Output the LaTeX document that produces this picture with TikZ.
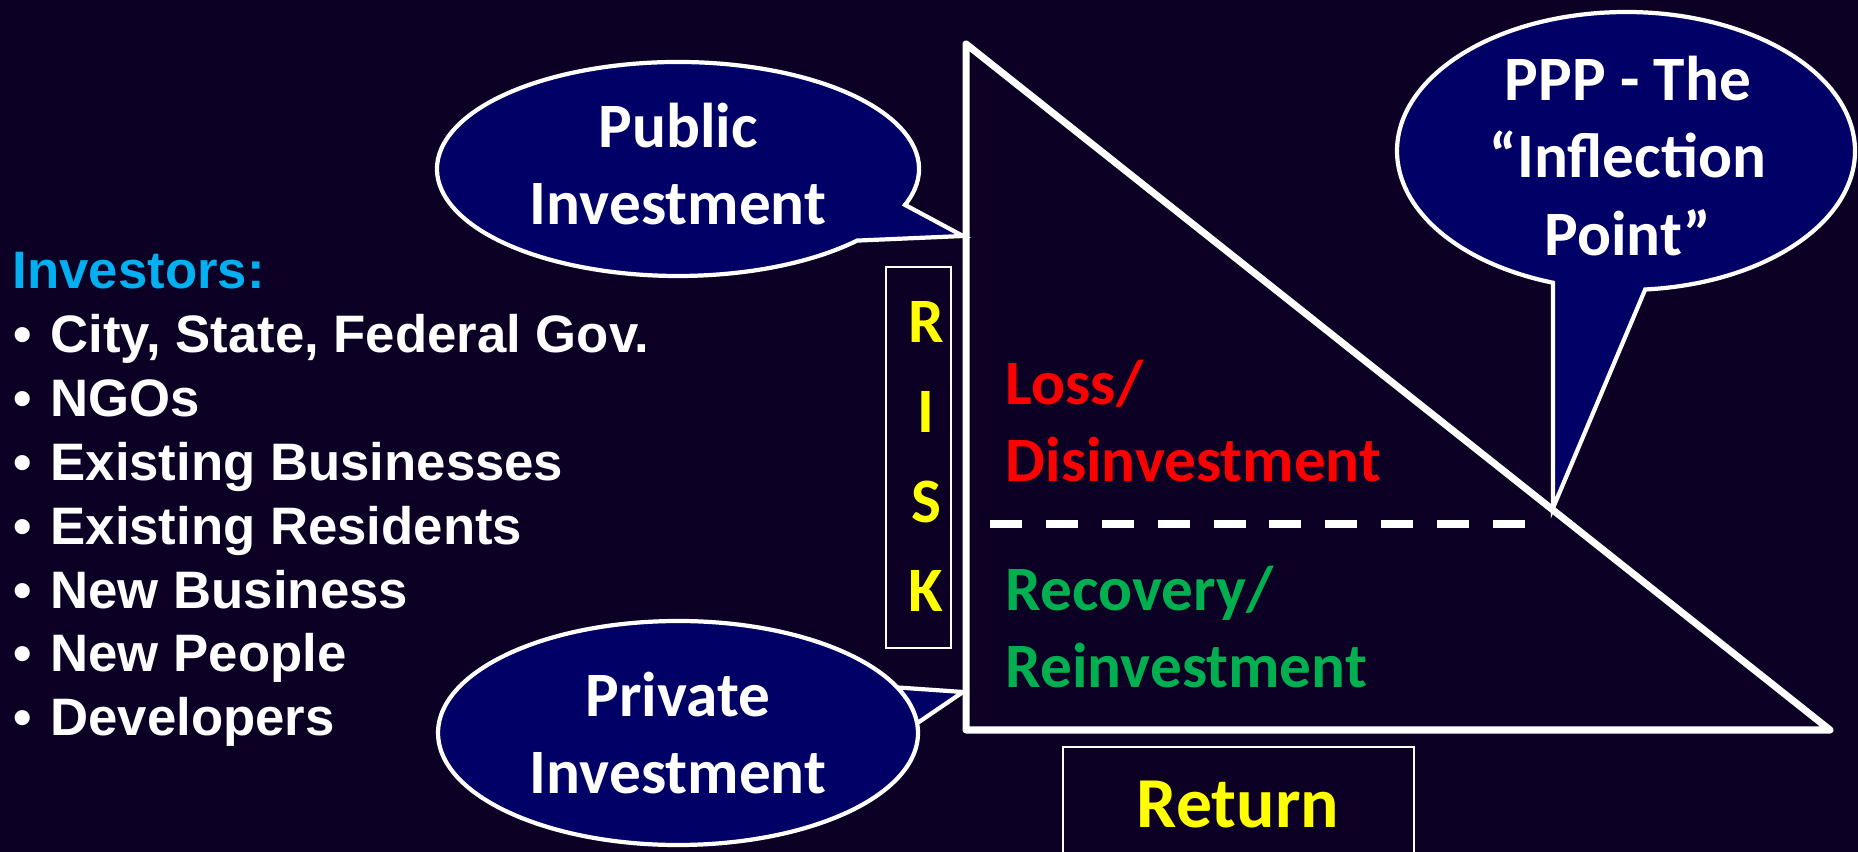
\documentclass[tikz,border=0pt]{standalone}
\usepackage{fontspec}
\usepackage{tikz}
\usetikzlibrary{positioning}

\newfontfamily\calibri{Carlito}
\newfontfamily\arialfont{Liberation Sans}

\definecolor{slidebg}{RGB}{12,0,36}
\definecolor{bubblenavy}{RGB}{0,0,102}
\definecolor{headcyan}{RGB}{0,176,240}
\definecolor{riskyellow}{RGB}{255,255,0}
\definecolor{lossred}{RGB}{255,0,0}
\definecolor{gaingreen}{RGB}{0,176,80}

\newcommand{\bul}{\makebox[10.5pt][l]{\textbullet}}

\begin{document}
\begin{tikzpicture}[x=0.1mm, y=0.1mm,
  bubble/.style = {draw=white, fill=bubblenavy, line width=1.2pt},
  bubbletext/.style = {text=white, font=\calibri\bfseries\fontsize{18}{22}\selectfont, align=center, inner sep=0pt},
  item/.style = {text=white, font=\arialfont\bfseries\fontsize{15}{18}\selectfont, anchor=base west, inner sep=0pt},
  riskletter/.style = {text=riskyellow, font=\calibri\bfseries\fontsize{18}{22}\selectfont, anchor=base, inner sep=0pt},
  zonetext/.style = {font=\calibri\bfseries\fontsize{18}{22}\selectfont, align=left, anchor=base west, inner sep=0pt},
  frame/.style = {draw=white, line width=0.7pt}]

\useasboundingbox (0,0) rectangle (1858,-852);
\fill[slidebg] (0,0) rectangle (1858,-852);

% investor list
\node[item, text=headcyan] (head) at (12,-289) {Investors:};
\node[item] (gov) at (13,-353) {\bul City, State, Federal Gov.};
\node[item] (ngo) [below=18.15pt of gov.base west, anchor=base west] {\bul NGOs};
\node[item] (oldbiz) [below=18.15pt of ngo.base west, anchor=base west] {\bul Existing Businesses};
\node[item] (oldres) [below=18.15pt of oldbiz.base west, anchor=base west] {\bul Existing Residents};
\node[item] (newbiz) [below=18.15pt of oldres.base west, anchor=base west] {\bul New Business};
\node[item] (people) [below=18.15pt of newbiz.base west, anchor=base west] {\bul New People};
\node[item] (devs) [below=18.15pt of people.base west, anchor=base west] {\bul Developers};

% risk / return triangle
\coordinate (apex) at (966,-44);
\coordinate (corner) at (966,-730);
\coordinate (far) at (1830,-730);
\draw[white, line width=2pt, line join=round] (apex) -- (corner) -- (far) -- cycle;

\coordinate (splitL) at (990,-524);
\coordinate (splitR) at (1530,-524);
\draw[white, line width=2.2pt, dash pattern=on 9.1pt off 6.8pt] (splitL) -- (splitR);

\node[zonetext, text=lossred] (loss) at (1005,-482) {Loss/\\Disinvestment};
\node[zonetext, text=gaingreen] (gain) at (1005,-688) {Recovery/\\Reinvestment};

% axis labels
\draw[frame] (886,-267) rectangle (951,-648);
\node[riskletter] (riskR) at (926,-343) {R};
\node[riskletter] (riskI) [below=25.5pt of riskR.base, anchor=base] {I};
\node[riskletter] (riskS) [below=25.5pt of riskI.base, anchor=base] {S};
\node[riskletter] (riskK) [below=25.5pt of riskS.base, anchor=base] {K};

\draw[frame] (1063,-900) |- (1414,-747) -- (1414,-900);
\node[riskletter, font=\calibri\bfseries\fontsize{20.4}{24}\selectfont] (ret) at (1238,-827) {Return};

% speech bubbles
\coordinate (pubtip) at (963,-236);
\draw[bubble] (678,-169) ++(-19.6:24.1mm and 10.7mm)
  arc[start angle=-19.6, end angle=318, x radius=24.1mm, y radius=10.7mm] -- (pubtip) -- cycle;
\node[bubbletext] (pub) at (678,-164) {Public\\Investment};

\coordinate (privtip) at (963,-692);
\draw[bubble] (678,-733) ++(5:24mm and 11.2mm)
  arc[start angle=5, end angle=384, x radius=24mm, y radius=11.2mm] -- (privtip) -- cycle;
\node[bubbletext] (priv) at (678,-733) {Private\\Investment};

\coordinate (ppptip) at (1553,-508);
\draw[bubble] (1626,-151) ++(-85.2:22.9mm and 13.9mm)
  arc[start angle=-85.2, end angle=251.4, x radius=22.9mm, y radius=13.9mm] -- (ppptip) -- cycle;
\node[bubbletext] (ppp) at (1628,-156) {PPP - The\\“Inflection\\Point”};

\end{tikzpicture}
\end{document}
